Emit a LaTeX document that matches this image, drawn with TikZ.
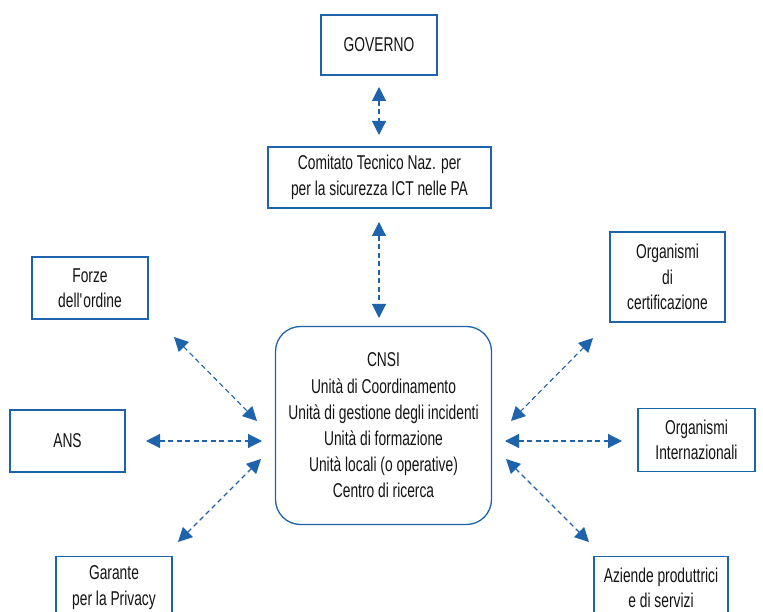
\documentclass[tikz,border=0pt]{standalone}
\usepackage{fontspec}
\setmainfont[FakeStretch=0.69]{Liberation Sans}
\usetikzlibrary{arrows.meta}
\definecolor{blu}{HTML}{1F63AA}
\definecolor{txt}{HTML}{141414}
\begin{document}
\begin{tikzpicture}[x=1pt,y=-1pt,
  box/.style={draw=blu, line width=1.3pt, inner sep=0pt, align=center, text=txt,
    font=\fontsize{20}{25.5}\selectfont},
  conn/.style={blu, line width=1.1pt, dash pattern=on 5pt off 3.5pt,
    {Triangle[length=14pt,width=14pt]}-{Triangle[length=14pt,width=14pt]}}]
\useasboundingbox (0,0) rectangle (763,612);
\clip (0,0) rectangle (763,612);
\fill[white] (0,0) rectangle (763,612);
% boxes
\node[box, minimum width=116pt, minimum height=60pt] (gov) at (379,45) {GOVERNO};
\node[box, minimum width=223pt, minimum height=61pt] (ctn) at (379.5,177.5) {Comitato Tecnico Naz. per\\per la sicurezza ICT nelle PA};
\node[box, minimum width=216pt, minimum height=198pt, rounded corners=25pt,
  font=\fontsize{20}{26.2}\selectfont] (cnsi) at (383.5,425.5)
  {CNSI\\Unità di Coordinamento\\Unità di gestione degli incidenti\\Unità di formazione\\Unità locali (o operative)\\Centro di ricerca};
\node[box, minimum width=116pt, minimum height=62pt] (forze) at (90,288) {Forze\\dell\textquotesingle ordine};
\node[box, minimum width=115pt, minimum height=62pt] (ans) at (67.5,441) {ANS};
\node[box, minimum width=116pt, minimum height=62pt, anchor=north] (gar) at (114,556) {Garante\\per la Privacy};
\node[box, minimum width=115pt, minimum height=90pt] (cert) at (667.5,277) {Organismi\\di\\certificazione};
\node[box, minimum width=117pt, minimum height=63pt] (intl) at (696.5,440) {Organismi\\Internazionali};
\node[box, minimum width=134pt, minimum height=62pt, anchor=north] (az) at (661,556) {Aziende produttrici\\e di servizi};
% connector endpoints
\coordinate (g1) at (379,87);   \coordinate (g2) at (379,135);
\coordinate (c1) at (379,222);  \coordinate (c2) at (379,318);
\coordinate (f1) at (174,337);  \coordinate (f2) at (257,421);
\coordinate (a1) at (146,441);  \coordinate (a2) at (262,441);
\coordinate (p1) at (178,542);  \coordinate (p2) at (261,459);
\coordinate (r1) at (593,338);  \coordinate (r2) at (511,421);
\coordinate (i1) at (505,441);  \coordinate (i2) at (622,441);
\coordinate (z1) at (506,459);  \coordinate (z2) at (589,542);
% connectors
\draw[conn] (g1) -- (g2);
\draw[conn] (c1) -- (c2);
\draw[conn] (f1) -- (f2);
\draw[conn] (a1) -- (a2);
\draw[conn] (p1) -- (p2);
\draw[conn] (r1) -- (r2);
\draw[conn] (i1) -- (i2);
\draw[conn] (z1) -- (z2);
\end{tikzpicture}
\end{document}
